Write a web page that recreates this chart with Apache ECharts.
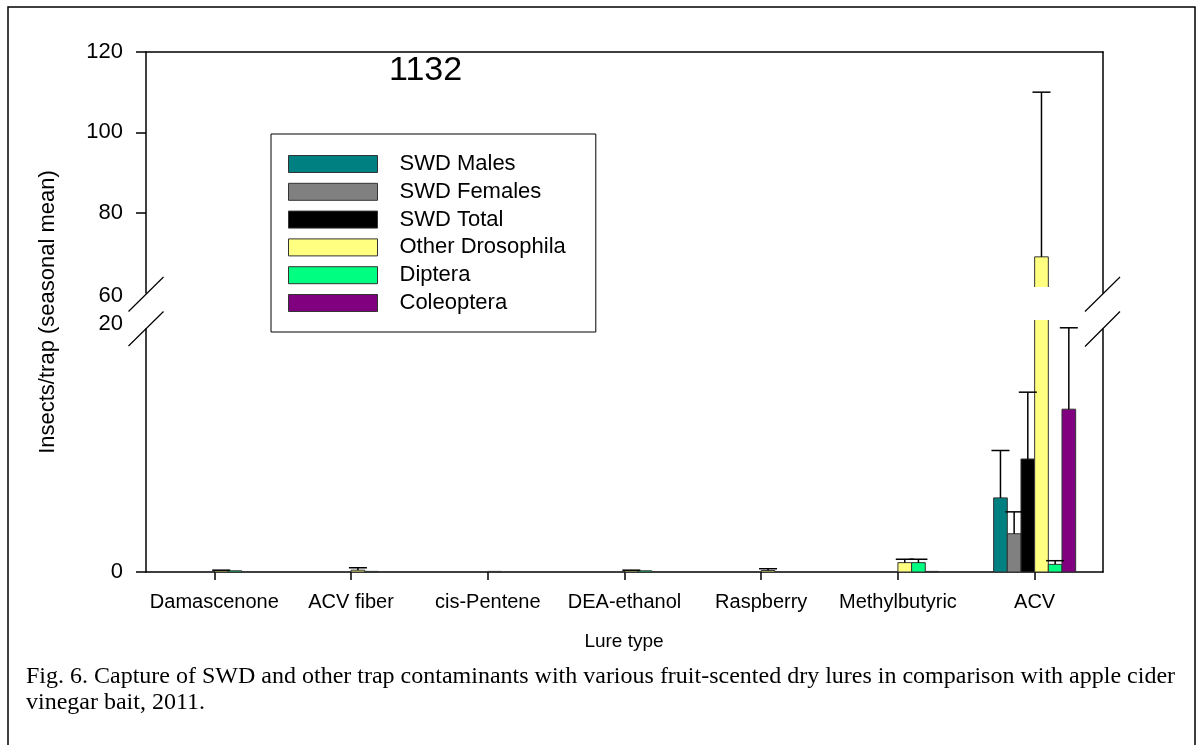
<!DOCTYPE html>
<html>
<head>
<meta charset="utf-8">
<script src="https://cdn.jsdelivr.net/npm/echarts@6/dist/echarts.min.js"></script>
<style>
  html, body { margin: 0; padding: 0; background: #fff; }
  #chart { width: 1202px; height: 745px; }
</style>
</head>
<body>
<div id="chart"></div>
<script>
// Lure types along the x axis
const lures = ['Damascenone', 'ACV fiber', 'cis-Pentene', 'DEA-ethanol', 'Raspberry', 'Methylbutyric', 'ACV'];

// Seasonal mean insects per trap, and standard errors, per lure
const swdMales        = [0, 0, 0, 0, 0, 0, 6.1];
const swdMalesSE      = [0, 0, 0, 0, 0, 0, 3.9];
const swdFemales      = [0, 0, 0, 0, 0, 0, 3.15];
const swdFemalesSE    = [0, 0, 0, 0, 0, 0, 1.8];
const swdTotal        = [0, 0, 0, 0, 0, 0, 9.3];
const swdTotalSE      = [0, 0, 0, 0, 0, 0, 5.5];
const otherDroso      = [0.1, 0.15, 0.05, 0.1, 0.12, 0.77, 69];
const otherDrosoSE    = [0.05, 0.2, 0, 0.05, 0.15, 0.28, 41];
const diptera         = [0.1, 0.05, 0, 0.1, 0, 0.77, 0.63];
const dipteraSE       = [0, 0, 0, 0, 0, 0.28, 0.3];
const coleoptera      = [0, 0, 0, 0, 0, 0.05, 13.4];
const coleopteraSE    = [0, 0, 0, 0, 0, 0, 6.7];

const seriesNames  = ['SWD Males', 'SWD Females', 'SWD Total', 'Other Drosophila', 'Diptera', 'Coleoptera'];
const seriesColors = ['#008080', '#808080', '#000000', '#ffff80', '#00ff80', '#800080'];
const seriesMeans  = [swdMales, swdFemales, swdTotal, otherDroso, diptera, coleoptera];
const seriesSE     = [swdMalesSE, swdFemalesSE, swdTotalSE, otherDrosoSE, dipteraSE, coleopteraSE];

// Broken value axis: upper segment 60-120, lower segment 0-20
const upperTickLabels = [60, 80, 100, 120];
const upperTicks      = [80, 100, 120];
const lowerTickLabels = [0, 20];
const lowerTicks      = [0];

const SANS = '"Liberation Sans", Arial, Helvetica, sans-serif';
const SERIF = '"Liberation Serif", "Times New Roman", serif';

const plotLeft = 146, plotRight = 1103;
const upperTop = 52, upperBottom = 293;
const lowerTop = 329, lowerBottom = 572;
const W = 1202;

// Marks stop a little short of the break in the upper panel, and run a
// little past the top of the lower panel, leaving a white gap in tall bars.
const breakSlack = [{ top: 0, bottom: -6 }, { top: 9, bottom: 0 }];
const BAR_SHARE = 0.6;     // group width as a share of the category band
const SLOTS = 6;

function visibleRange(params, g) {
  const cs = params.coordSys;
  return [cs.y - breakSlack[g].top, cs.y + cs.height + breakSlack[g].bottom];
}

function slotCenter(api, cat, slot) {
  const band = api.size([1, 0])[0];
  const barW = band * BAR_SHARE / SLOTS;
  return { cx: api.coord([cat, 0])[0] + (slot - (SLOTS - 1) / 2) * barW, barW: barW };
}

function makeBarRenderer(slot, g, color) {
  return function (params, api) {
    const cat = api.value(0), v = api.value(1);
    if (!(v > 0)) return null;
    const [lo, hi] = visibleRange(params, g);
    const { cx, barW } = slotCenter(api, cat, slot);
    const x0 = cx - barW / 2, x1 = cx + barW / 2;
    const yBase = api.coord([cat, 0])[1];
    const yTop = api.coord([cat, v])[1];
    const top = Math.max(yTop, lo), bottom = Math.min(yBase, hi);
    if (top >= bottom) return null;
    const edge = { stroke: '#333', lineWidth: 1 };
    const children = [
      { type: 'rect', shape: { x: x0, y: top, width: barW, height: bottom - top }, style: { fill: color } },
      { type: 'line', shape: { x1: x0, y1: bottom, x2: x0, y2: top }, style: edge },
      { type: 'line', shape: { x1: x1, y1: bottom, x2: x1, y2: top }, style: edge }
    ];
    if (yTop >= lo) children.push({ type: 'line', shape: { x1: x0, y1: top, x2: x1, y2: top }, style: edge });
    if (yBase <= hi) children.push({ type: 'line', shape: { x1: x0, y1: bottom, x2: x1, y2: bottom }, style: edge });
    return { type: 'group', children: children };
  };
}

function makeErrRenderer(g) {
  return function (params, api) {
    const cat = api.value(0), slot = api.value(1), mean = api.value(2), upper = api.value(3);
    const [lo, hi] = visibleRange(params, g);
    const { cx } = slotCenter(api, cat, slot);
    const y0 = api.coord([cat, mean])[1];
    const y1 = api.coord([cat, upper])[1];
    const a = Math.min(y0, hi), b = Math.max(y1, lo);
    if (b >= a) return null;
    const st = { stroke: '#000', lineWidth: 1.5 };
    const children = [{ type: 'line', shape: { x1: cx, y1: a, x2: cx, y2: b }, style: st }];
    if (y1 >= lo) children.push({ type: 'line', shape: { x1: cx - 9, y1: y1, x2: cx + 9, y2: y1 }, style: st });
    return { type: 'group', children: children };
  };
}

const errData = [];
seriesSE.forEach((se, s) => {
  se.forEach((e, c) => {
    if (e > 0) errData.push([c, s, seriesMeans[s][c], seriesMeans[s][c] + e]);
  });
});

const allSeries = [];
[0, 1].forEach(g => {
  seriesNames.forEach((name, s) => {
    allSeries.push({
      type: 'custom',
      name: name,
      xAxisIndex: g,
      yAxisIndex: g * 2,
      data: seriesMeans[s].map((v, c) => [c, v]),
      encode: { x: 0, y: 1 },
      renderItem: makeBarRenderer(s, g, seriesColors[s]),
      itemStyle: { color: seriesColors[s], borderColor: '#333', borderWidth: 1 },
      silent: true,
      z: 2
    });
  });
  allSeries.push({
    type: 'custom',
    xAxisIndex: g,
    yAxisIndex: g * 2,
    data: errData,
    renderItem: makeErrRenderer(g),
    silent: true,
    z: 5
  });
});

const axisLineStyle = { show: true, lineStyle: { color: '#000', width: 1.5 } };
const tickFont = { color: '#000', fontFamily: SANS, fontSize: 22 };
// labels next to the break sit slightly away from it
const tickRich = {
  down: Object.assign({ padding: [6, 0, 0, 0] }, tickFont),
  up: Object.assign({ padding: [0, 0, 10, 0] }, tickFont)
};

const option = {
  animation: false,
  backgroundColor: '#fff',
  grid: [
    { left: plotLeft, right: W - plotRight, top: upperTop, height: upperBottom - upperTop },
    { left: plotLeft, right: W - plotRight, top: lowerTop, height: lowerBottom - lowerTop }
  ],
  xAxis: [
    {
      type: 'category', gridIndex: 0, data: lures, position: 'top',
      axisLine: axisLineStyle, axisTick: { show: false }, axisLabel: { show: false }
    },
    {
      type: 'category', gridIndex: 1, data: lures, position: 'bottom',
      axisLine: axisLineStyle,
      axisTick: { show: true, alignWithLabel: true, interval: 0, length: 8, lineStyle: { color: '#000', width: 1.5 } },
      axisLabel: { color: '#000', fontFamily: SANS, fontSize: 20, margin: 20, interval: 0 }
    }
  ],
  yAxis: [
    {
      type: 'value', gridIndex: 0, position: 'left', min: 60, max: 120, interval: 20,
      axisLine: axisLineStyle,
      axisTick: { show: true, length: 10, customValues: upperTicks, lineStyle: { color: '#000', width: 1.5 } },
      axisLabel: Object.assign({
        margin: 23, customValues: upperTickLabels, rich: tickRich,
        formatter: v => (v === upperTickLabels[0] ? '{down|' + v + '}' : String(v))
      }, tickFont),
      splitLine: { show: false }
    },
    {
      type: 'value', gridIndex: 0, position: 'right', min: 60, max: 120, interval: 20,
      axisLine: axisLineStyle, axisTick: { show: false }, axisLabel: { show: false }, splitLine: { show: false }
    },
    {
      type: 'value', gridIndex: 1, position: 'left', min: 0, max: 20, interval: 20,
      axisLine: axisLineStyle,
      axisTick: { show: true, length: 10, customValues: lowerTicks, lineStyle: { color: '#000', width: 1.5 } },
      axisLabel: Object.assign({
        margin: 23, customValues: lowerTickLabels, rich: tickRich,
        formatter: v => (v === lowerTickLabels[lowerTickLabels.length - 1] ? '{up|' + v + '}' : String(v))
      }, tickFont),
      splitLine: { show: false }
    },
    {
      type: 'value', gridIndex: 1, position: 'right', min: 0, max: 20, interval: 20,
      axisLine: axisLineStyle, axisTick: { show: false }, axisLabel: { show: false }, splitLine: { show: false }
    }
  ],
  legend: {
    data: seriesNames,
    orient: 'vertical',
    left: 271, top: 134,
    icon: 'rect',
    itemWidth: 89, itemHeight: 17, itemGap: 5.8,
    padding: [19, 30, 18, 17],
    borderColor: '#000', borderWidth: 1,
    backgroundColor: '#fff',
    selectedMode: false,
    textStyle: { color: '#000', fontFamily: SANS, fontSize: 22, padding: [0, 0, 0, 17] },
    itemStyle: { borderColor: '#333', borderWidth: 1 },
    z: 20
  },
  graphic: [
    // outer figure frame
    { type: 'rect', shape: { x: 8, y: 7, width: 1187, height: 780 },
      style: { fill: 'none', stroke: '#000', lineWidth: 1.5 }, silent: true, z: 0 },
    // axis break marks, left and right
    { type: 'line', shape: { x1: 128.5, y1: 311.5, x2: 163.5, y2: 277 }, style: { stroke: '#000', lineWidth: 1.2 }, z: 10 },
    { type: 'line', shape: { x1: 128.5, y1: 346, x2: 163.5, y2: 311.5 }, style: { stroke: '#000', lineWidth: 1.2 }, z: 10 },
    { type: 'line', shape: { x1: 1085, y1: 311.5, x2: 1120, y2: 277 }, style: { stroke: '#000', lineWidth: 1.2 }, z: 10 },
    { type: 'line', shape: { x1: 1085, y1: 346.5, x2: 1120, y2: 311.5 }, style: { stroke: '#000', lineWidth: 1.2 }, z: 10 },
    // panel label
    { type: 'text', x: 389, y: 71,
      style: { text: '1132', fill: '#000', font: '34px ' + SANS, verticalAlign: 'middle' } },
    // y axis title
    { type: 'text', x: 48, y: 312, rotation: Math.PI / 2,
      style: { text: 'Insects/trap (seasonal mean)', fill: '#000', font: '22px ' + SANS,
               align: 'center', verticalAlign: 'middle' } },
    // x axis title
    { type: 'text', x: 624, y: 642,
      style: { text: 'Lure type', fill: '#000', font: '19px ' + SANS, align: 'center', verticalAlign: 'middle' } },
    // figure caption
    { type: 'text', x: 26, y: 677,
      style: { text: 'Fig. 6. Capture of SWD and other trap contaminants with various fruit-scented dry lures in comparison with apple cider',
               fill: '#000', font: '24px ' + SERIF, verticalAlign: 'middle' } },
    { type: 'text', x: 26, y: 703,
      style: { text: 'vinegar bait, 2011.', fill: '#000', font: '24px ' + SERIF, verticalAlign: 'middle' } }
  ],
  series: allSeries
};

const chart = echarts.init(document.getElementById('chart'), null, { renderer: 'canvas' });
chart.setOption(option);
</script>
</body>
</html>
